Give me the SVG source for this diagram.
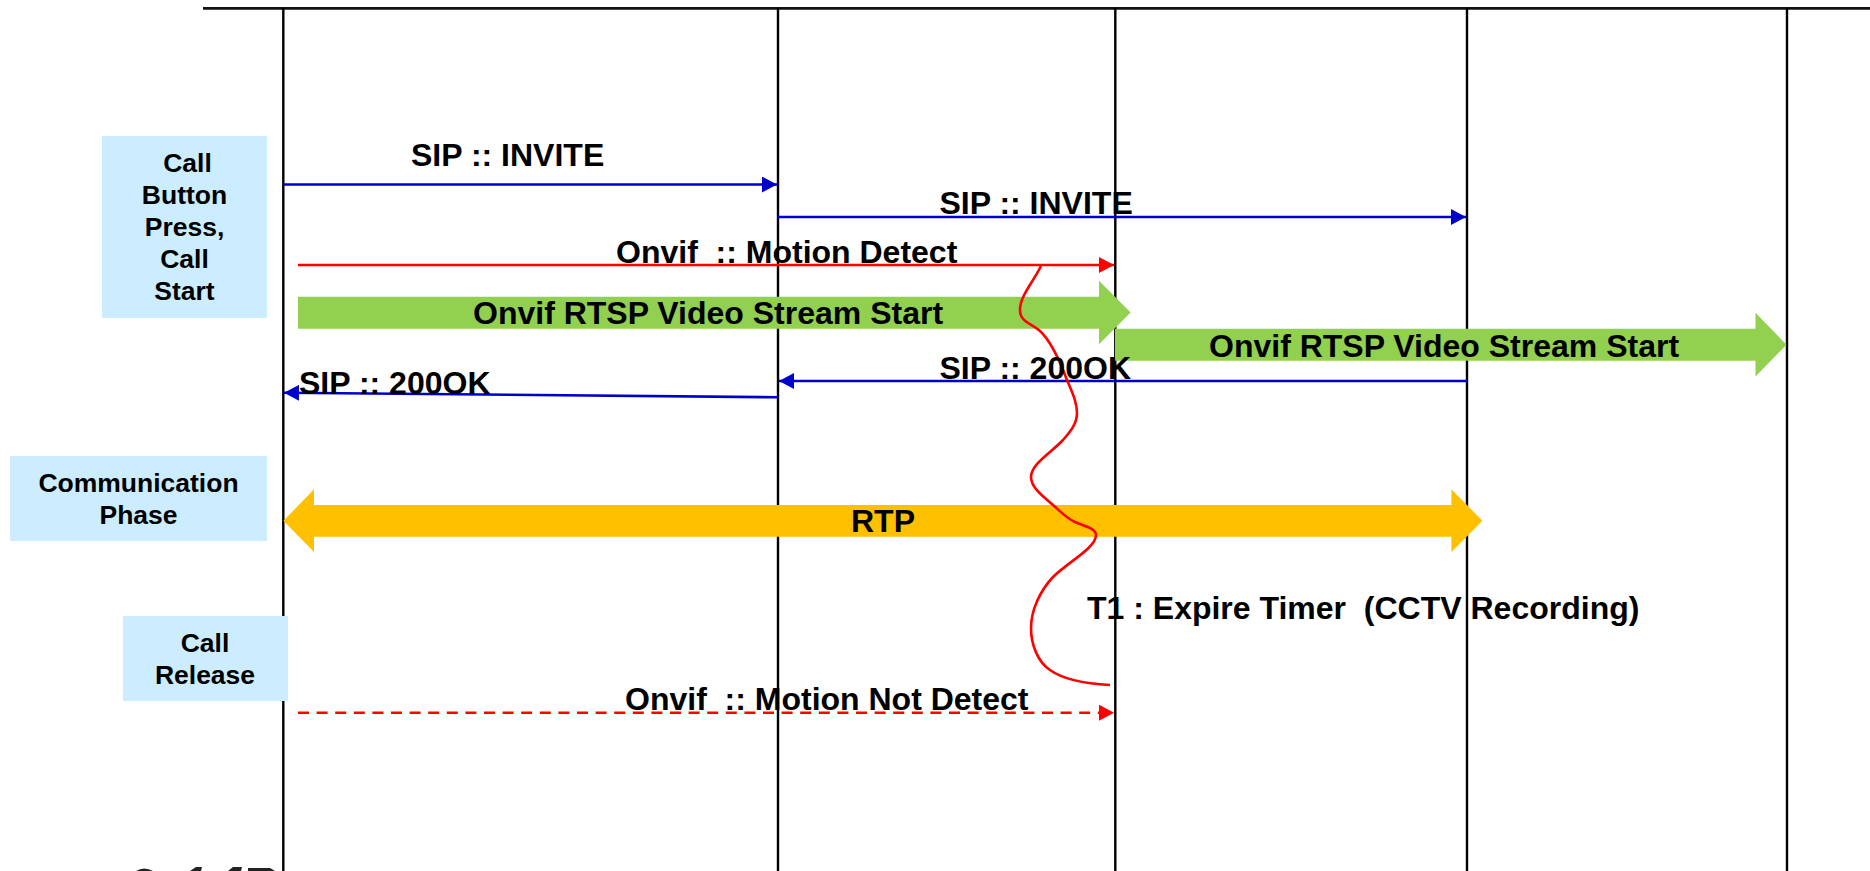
<svg xmlns="http://www.w3.org/2000/svg" width="1870" height="871" viewBox="0 0 1870 871">
<style>
text{font-family:"Liberation Sans",Arial,sans-serif;font-weight:700;fill:#000;white-space:pre}
.b{font-size:26.5px;text-anchor:middle}
.l{font-size:32px}
.life{stroke:#000;stroke-width:2.4;fill:none}
.box{fill:#CCECFF}
.blue{stroke:#0000CC;stroke-width:2.6;fill:none}
.red{stroke:#FF0000;stroke-width:2.6;fill:none}
</style>
<defs>
<marker id="ab" markerUnits="userSpaceOnUse" markerWidth="16" markerHeight="16" refX="15" refY="8" orient="auto"><path d="M0 0L15 8L0 16z" fill="#0000CC"/></marker>
<marker id="ar" markerUnits="userSpaceOnUse" markerWidth="16" markerHeight="16" refX="15" refY="8" orient="auto"><path d="M0 0L15 8L0 16z" fill="#FF0000"/></marker>
</defs>
<rect width="1870" height="871" fill="#fff"/>
<g id="lifelines">
<path d="M203 8.3H1870" stroke="#111" stroke-width="2.8" fill="none"/>
<path class="life" d="M283.3 8V871M778 8V871M1115.3 8V871M1467 8V871M1787 8V871"/>
</g>
<g id="connectors">
<path class="blue" d="M283 184.5H777" marker-end="url(#ab)"/>
<path class="blue" d="M778 217H1466" marker-end="url(#ab)"/>
<path class="red" d="M298 265H1114" marker-end="url(#ar)"/>
<path class="blue" d="M1467 381H779" marker-end="url(#ab)"/>
<path class="blue" d="M778 397.3L284 392.7" marker-end="url(#ab)"/>
<path class="red" d="M298 712.7H1114" stroke-dasharray="11 7.6" marker-end="url(#ar)"/>
</g>
<g id="stream-1"><path d="M298 296.7H1099V280.7L1130.6 312.5L1099 344.3V328.7H298z" fill="#92D050"/></g>
<g id="stream-2"><path d="M1115 328.7H1755.5V312.7L1786.5 344.7L1755.5 376.5V360.7H1115z" fill="#92D050"/></g>
<g id="rtp"><path d="M283.5 520.7L314 489.3V505H1451.4V489.3L1482.4 520.7L1451.4 552V536.7H314V552z" fill="#FFC000"/></g>
<g id="timer"><path class="red" d="M1041 266C1032 284 1020 296 1020 310C1020 322 1031 323 1040 331C1052 342 1061 364 1067 380C1072 392 1077 402 1077 413C1077 424 1070 432 1063 440C1052 452 1031 464 1031 477C1031 488 1044 497 1053 505C1060 511 1066 518 1075 522C1083 526 1096 528 1096 535C1096 548 1068 562 1053 577C1040 591 1031 610 1031 628C1031 645 1038 662 1050 670C1064 680 1090 684 1110 685"/></g>
<g id="call-start"><rect class="box" x="102" y="136" width="165" height="182"/>
<text class="b" x="187.5" y="172">Call</text><text class="b" x="184.5" y="204">Button</text><text class="b" x="184.5" y="236">Press,</text><text class="b" x="184.5" y="268">Call</text><text class="b" x="184.5" y="300">Start</text></g>
<g id="communication"><rect class="box" x="10" y="456" width="257" height="85"/>
<text class="b" x="138.5" y="491.7">Communication</text><text class="b" x="138.5" y="523.7">Phase</text></g>
<g id="call-release"><rect class="box" x="123" y="616" width="165" height="85"/>
<text class="b" x="205" y="652">Call</text><text class="b" x="205" y="684">Release</text></g>
<g id="labels">
<text class="l" x="411" y="165.7">SIP :: INVITE</text>
<text class="l" x="939.5" y="214">SIP :: INVITE</text>
<text class="l" x="616" y="262.7">Onvif  :: Motion Detect</text>
<text class="l" x="473" y="324.3">Onvif RTSP Video Stream Start</text>
<text class="l" x="1209" y="356.7">Onvif RTSP Video Stream Start</text>
<text class="l" x="299" y="394">SIP :: 200OK</text>
<text class="l" x="939.5" y="378.7">SIP :: 200OK</text>
<text class="l" x="851" y="532">RTP</text>
<text class="l" x="1087" y="618.7">T1 : Expire Timer  (CCTV Recording)</text>
<text class="l" x="625" y="710.3">Onvif  :: Motion Not Detect</text>
</g>
<g id="cropped-mark" fill="#222">
<path d="M136 871Q144 866 153 871z"/>
<path d="M190 871L196 867H202L201 871z"/>
<path d="M228 871L233 867H242L241 871z"/>
<path d="M248 871V868H270L275 871z"/>
</g>
</svg>
